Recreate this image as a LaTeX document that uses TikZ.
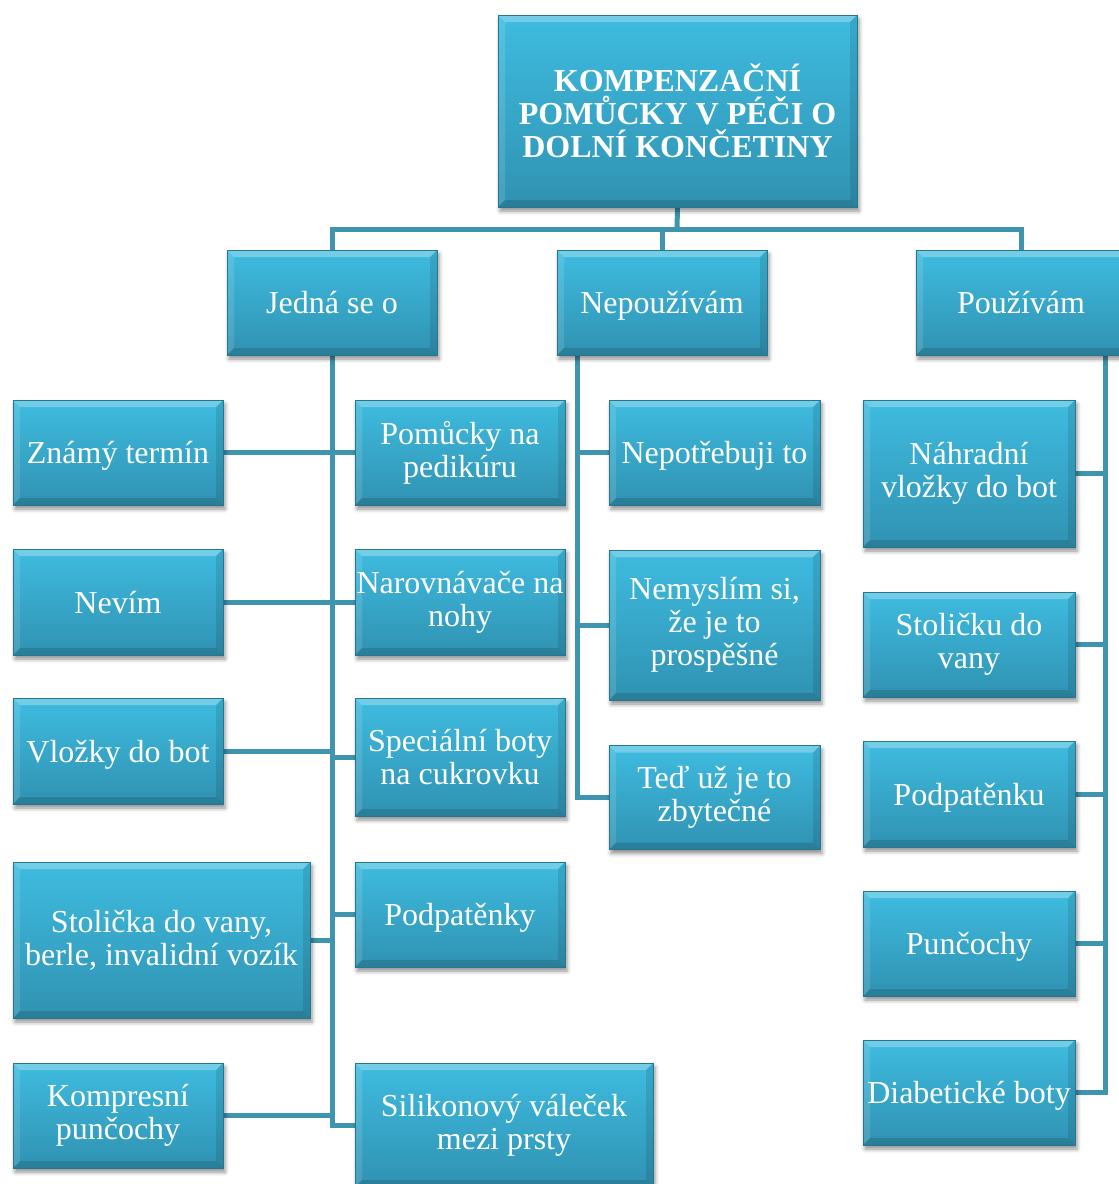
\documentclass[tikz,border=0pt]{standalone}
\usepackage{fontspec}
\setmainfont{Liberation Serif}
\usetikzlibrary{shadows.blur,backgrounds}
\definecolor{boxtop}{RGB}{62,188,224}
\definecolor{boxbot}{RGB}{48,146,178}
\definecolor{boxedge}{RGB}{38,118,142}
\definecolor{conn}{RGB}{63,148,174}
\tikzset{
  box/.style={rectangle, inner sep=0pt, align=center, text=white,
    font=\fontsize{32}{33}\selectfont,
    top color=boxtop, bottom color=boxbot, draw=boxedge, line width=0.6pt,
    blur shadow={shadow xshift=2pt, shadow yshift=-4pt, shadow blur radius=4pt, shadow opacity=45},
    path picture={
      \fill[white,opacity=0.28] (path picture bounding box.north west) -- (path picture bounding box.north east)
        -- ([xshift=-7pt,yshift=-7pt]path picture bounding box.north east) -- ([xshift=7pt,yshift=-7pt]path picture bounding box.north west) -- cycle;
      \fill[white,opacity=0.12] (path picture bounding box.north west) -- ([xshift=7pt,yshift=-7pt]path picture bounding box.north west)
        -- ([xshift=7pt,yshift=7pt]path picture bounding box.south west) -- (path picture bounding box.south west) -- cycle;
      \fill[black,opacity=0.14] (path picture bounding box.south west) -- ([xshift=7pt,yshift=7pt]path picture bounding box.south west)
        -- ([xshift=-7pt,yshift=7pt]path picture bounding box.south east) -- (path picture bounding box.south east) -- cycle;
      \fill[black,opacity=0.10] (path picture bounding box.south east) -- ([xshift=-7pt,yshift=7pt]path picture bounding box.south east)
        -- ([xshift=-7pt,yshift=-7pt]path picture bounding box.north east) -- (path picture bounding box.north east) -- cycle;
    }},
  single/.style={box, text height=29pt, text depth=7pt},
  title/.style={box, font=\fontsize{32}{33}\selectfont\bfseries},
  link/.style={draw=conn, line width=5pt}
}
\begin{document}
\begin{tikzpicture}[x=1pt,y=-1pt]
\useasboundingbox (0,0) rectangle (1119,1184);
% nodes
\node[title, minimum width=359, minimum height=192] (t) at (677.5,111) {KOMPENZAČNÍ\\POMŮCKY V PÉČI O\\DOLNÍ KONČETINY};
\node[single, minimum width=210, minimum height=105] (j) at (332,302.5) {Jedná se o};
\node[single, minimum width=210, minimum height=105] (n) at (662,302.5) {Nepoužívám};
\node[single, minimum width=210, minimum height=105] (p) at (1021,302.5) {Používám};
% Jedna se o - left
\node[single, minimum width=210, minimum height=105] (a1) at (118,452.5) {Známý termín};
\node[single, minimum width=210, minimum height=106] (a2) at (118,602) {Nevím};
\node[single, minimum width=210, minimum height=106] (a3) at (118,751) {Vložky do bot};
\node[box, minimum width=297, minimum height=156] (a4) at (161.5,940) {Stolička do vany,\\berle, invalidní vozík};
\node[box, minimum width=210, minimum height=105] (a5) at (118,1115.5) {Kompresní\\punčochy};
% Jedna se o - right
\node[box, minimum width=210, minimum height=105] (b1) at (460,452.5) {Pomůcky na\\pedikúru};
\node[box, minimum width=210, minimum height=106] (b2) at (460,602) {Narovnávače na\\nohy};
\node[box, minimum width=210, minimum height=118] (b3) at (460,757) {Speciální boty\\na cukrovku};
\node[single, minimum width=210, minimum height=105] (b4) at (460,914.5) {Podpatěnky};
\node[box, minimum width=298, minimum height=124] (b5) at (504,1125) {Silikonový váleček\\mezi prsty};
% Nepouzivam
\node[single, minimum width=211, minimum height=105] (c1) at (714.5,452.5) {Nepotřebuji to};
\node[box, minimum width=211, minimum height=150] (c2) at (714.5,625) {Nemyslím si,\\že je to\\prospěšné};
\node[box, minimum width=211, minimum height=104] (c3) at (714.5,797.5) {Teď už je to\\zbytečné};
% Pouzivam
\node[box, minimum width=212, minimum height=147] (d1) at (969,473.5) {Náhradní\\vložky do bot};
\node[box, minimum width=212, minimum height=105] (d2) at (969,644.5) {Stoličku do\\vany};
\node[single, minimum width=212, minimum height=106] (d3) at (969,794) {Podpatěnku};
\node[single, minimum width=212, minimum height=105] (d4) at (969,943.5) {Punčochy};
\node[single, minimum width=212, minimum height=105] (d5) at (969,1092.5) {Diabetické boty};
\coordinate (hy) at (677,229);
\coordinate (nv) at (577,355);
\coordinate (pv) at (1105,355);
% connectors behind the boxes
\begin{scope}[on background layer]
  % top level
  \draw[link] (t.south) -- (hy);
  \draw[link] (j.north) |- (hy) -| (p.north);
  \draw[link] (n.north) -- (n.north |- hy);
  % Jedna se o column
  \draw[link] (j.south) |- (b5.west);
  \draw[link] (a1.east) -- (b1.west);
  \draw[link] (a2.east) -- (b2.west);
  \draw[link] (a3.east) -- (a3.east -| j.south);
  \draw[link] (b3.west) -- (b3.west -| j.south);
  \draw[link] (a4.east) -- (a4.east -| j.south);
  \draw[link] (b4.west) -- (b4.west -| j.south);
  \draw[link] (a5.east) -- (a5.east -| j.south);
  % Nepouzivam column
  \draw[link] (nv) |- (c3.west);
  \draw[link] (c1.west) -- (c1.west -| nv);
  \draw[link] (c2.west) -- (c2.west -| nv);
  % Pouzivam column
  \draw[link] (pv) |- (d5.east);
  \draw[link] (d1.east) -- (d1.east -| pv);
  \draw[link] (d2.east) -- (d2.east -| pv);
  \draw[link] (d3.east) -- (d3.east -| pv);
  \draw[link] (d4.east) -- (d4.east -| pv);
\end{scope}
\end{tikzpicture}
\end{document}
